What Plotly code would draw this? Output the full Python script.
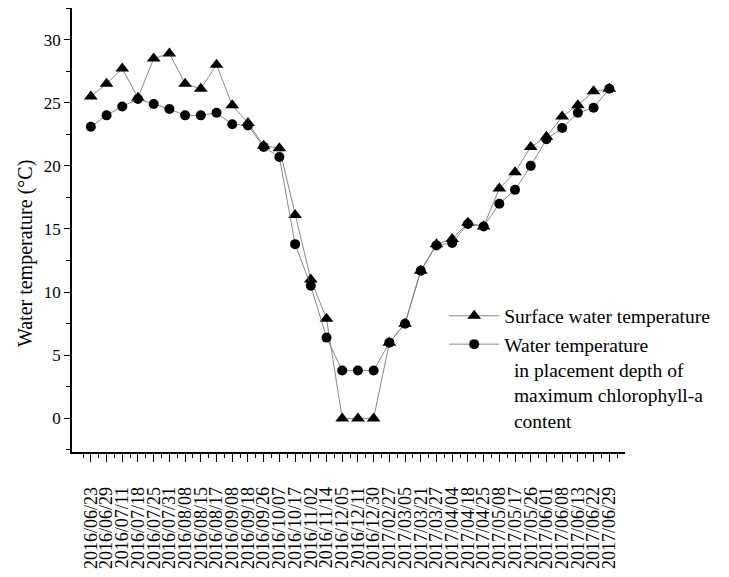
import plotly.graph_objects as go

# Sampling dates (category labels on the x axis)
dates = [
    "2016/06/23", "2016/06/29", "2016/07/11", "2016/07/18", "2016/07/25",
    "2016/07/31", "2016/08/08", "2016/08/15", "2016/08/17", "2016/09/08",
    "2016/09/18", "2016/09/26", "2016/10/07", "2016/10/17", "2016/11/02",
    "2016/11/14", "2016/12/05", "2016/12/11", "2016/12/30", "2017/02/27",
    "2017/03/05", "2017/03/21", "2017/03/27", "2017/04/04", "2017/04/18",
    "2017/04/25", "2017/05/08", "2017/05/17", "2017/05/26", "2017/06/01",
    "2017/06/08", "2017/06/13", "2017/06/22", "2017/06/29",
]

# Surface water temperature (°C)
surface_temp = [
    25.5, 26.5, 27.7, 25.4, 28.5, 28.9, 26.5, 26.1, 28.0, 24.8,
    23.4, 21.6, 21.4, 16.1, 11.0, 7.9, 0.0, 0.0, 0.0, 6.0,
    7.5, 11.7, 13.8, 14.2, 15.5, 15.2, 18.2, 19.5, 21.5, 22.3,
    23.9, 24.8, 25.9, 26.1,
]

# Water temperature at the depth of maximum chlorophyll-a (°C)
chla_depth_temp = [
    23.1, 24.0, 24.7, 25.3, 24.9, 24.5, 24.0, 24.0, 24.2, 23.3,
    23.2, 21.5, 20.7, 13.8, 10.5, 6.4, 3.8, 3.8, 3.8, 6.0,
    7.5, 11.7, 13.7, 13.9, 15.4, 15.2, 17.0, 18.1, 20.0, 22.1,
    23.0, 24.2, 24.6, 26.1,
]

y_ticks = [0, 5, 10, 15, 20, 25, 30]

FONT = "Times New Roman, Liberation Serif, serif"
idx = list(range(len(dates)))

fig = go.Figure()
fig.add_trace(go.Scatter(
    x=idx, y=surface_temp, mode="lines+markers",
    name="Surface water temperature",
    line=dict(color="#7a7a7a", width=0.9),
    marker=dict(symbol="triangle-up", size=12, color="black"),
))
fig.add_trace(go.Scatter(
    x=idx, y=chla_depth_temp, mode="lines+markers",
    name=("Water temperature<br>\u00a0\u00a0in placement depth of"
          "<br>\u00a0\u00a0maximum chlorophyll-a<br>\u00a0\u00a0content"),
    line=dict(color="#7a7a7a", width=0.9),
    marker=dict(symbol="circle", size=10, color="black"),
))

fig.update_layout(
    width=729, height=577,
    margin=dict(l=72, r=104, t=8, b=119),
    paper_bgcolor="white", plot_bgcolor="white",
    font=dict(family=FONT, color="black"),
    showlegend=True,
    legend=dict(
        x=0.673, y=0.35, xanchor="left", yanchor="top",
        font=dict(family=FONT, size=19.5, color="black"),
        bgcolor="rgba(0,0,0,0)", borderwidth=0,
        itemwidth=50, valign="top", tracegroupgap=1,
    ),
)

# y-axis title placed as a rotated label to the left of the axis
fig.add_annotation(
    text="Water temperature (°C)", textangle=-90,
    xref="paper", yref="paper", x=-0.085, y=0.448,
    xanchor="center", yanchor="middle", showarrow=False,
    font=dict(family=FONT, size=20, color="black"),
)

fig.update_xaxes(
    range=[-1.2, 34.0],
    tickmode="array", tickvals=idx, ticktext=dates,
    tickangle=-90, ticks="outside", ticklen=8, tickwidth=1.2,
    tickcolor="black", ticklabelstandoff=18,
    tickfont=dict(family=FONT, size=18, color="black"),
    minor=dict(tickmode="linear", tick0=-0.5, dtick=1, ticks="outside",
               ticklen=4, tickwidth=1.2, tickcolor="black"),
    showline=True, linecolor="black", linewidth=1.5,
    showgrid=False, zeroline=False,
)

fig.update_yaxes(
    range=[-2.66, 32.5],
    tickmode="array", tickvals=y_ticks,
    ticks="outside", ticklen=6, tickwidth=1.2, tickcolor="black",
    tickfont=dict(family=FONT, size=17, color="black"),
    minor=dict(tickmode="linear", tick0=2.5, dtick=5, ticks="outside",
               ticklen=4, tickwidth=1.2, tickcolor="black"),
    showline=True, linecolor="black", linewidth=1.5,
    showgrid=False, zeroline=False,
)

fig.write_html("out.html")
